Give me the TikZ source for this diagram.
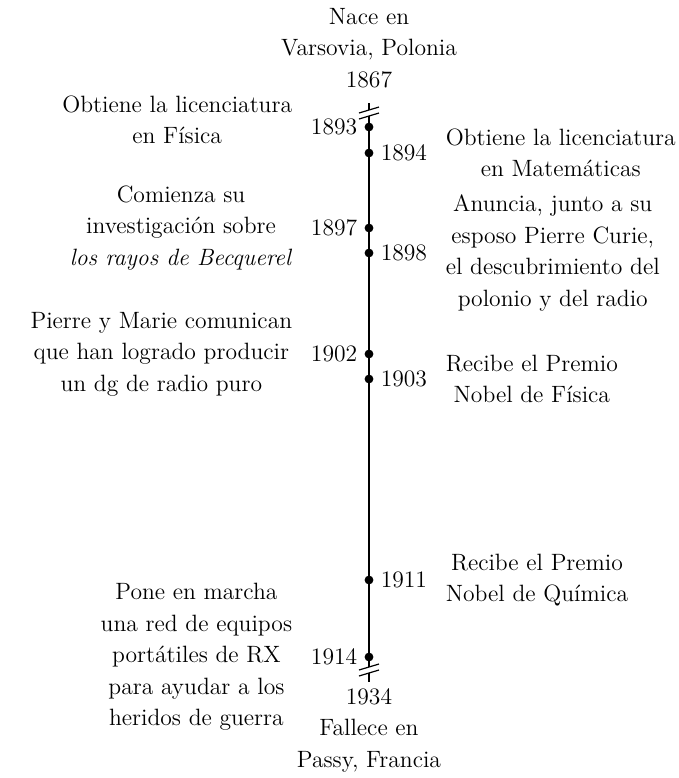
\documentclass[tikz,border=0pt]{standalone}
\usetikzlibrary{positioning}
\begin{document}
\begin{tikzpicture}[x=0.5pt,y=-0.5pt,
  font=\fontsize{11.8}{15.75}\selectfont,
  evento/.style={align=center,inner sep=2pt},
  anio/.style={inner sep=2pt},
  punto/.style={circle,fill,inner sep=0pt,minimum size=4.4pt},
  linea/.style={line width=0.6pt}]
\useasboundingbox (0,0) rectangle (679,778);

% Extremos de la linea de tiempo
\node[evento] (nace) at (369,48) {Nace en\\Varsovia, Polonia\\1867};
\node[evento] (muere) at (369,730) {1934\\Fallece en\\Passy, Francia};

% Linea con cortes
\coordinate (inicio) at (369,103);
\coordinate (corte1) at (369,110);
\coordinate (corte2) at (369,116);
\coordinate (corte3) at (369,667);
\coordinate (corte4) at (369,673);
\coordinate (fin) at (369,682);
\draw[linea] (inicio) -- (corte1);
\draw[linea] (corte2) -- (corte3);
\draw[linea] (corte4) -- (fin);
\draw[linea] ([shift={(-10,3)}]corte1) -- ([shift={(10,-3)}]corte1);
\draw[linea] ([shift={(-10,3)}]corte2) -- ([shift={(10,-3)}]corte2);
\draw[linea] ([shift={(-10,3)}]corte3) -- ([shift={(10,-3)}]corte3);
\draw[linea] ([shift={(-10,3)}]corte4) -- ([shift={(10,-3)}]corte4);

% Puntos
\node[punto] (p1893) at (369,127) {};
\node[punto] (p1894) at (369,153) {};
\node[punto] (p1897) at (369,228) {};
\node[punto] (p1898) at (369,253) {};
\node[punto] (p1902) at (369,354) {};
\node[punto] (p1903) at (369,379) {};
\node[punto] (p1911) at (369,580) {};
\node[punto] (p1914) at (369,657) {};

% Anios
\node[anio, left=1.3pt of p1893] (a1893) {1893};
\node[anio, right=1.3pt of p1894] (a1894) {1894};
\node[anio, left=1.3pt of p1897] (a1897) {1897};
\node[anio, right=1.3pt of p1898] (a1898) {1898};
\node[anio, left=1.3pt of p1902] (a1902) {1902};
\node[anio, right=1.3pt of p1903] (a1903) {1903};
\node[anio, right=1.3pt of p1911] (a1911) {1911};
\node[anio, left=1.3pt of p1914] (a1914) {1914};

% Eventos a la izquierda
\node[evento, left=5pt of a1893, yshift=3.5pt] (e1893) {Obtiene la licenciatura\\en Física};
\node[evento, left=5pt of a1897] (e1897) {Comienza su\\investigación sobre\\\textit{los rayos de Becquerel}};
\node[evento, left=5pt of a1902] (e1902) {Pierre y Marie comunican\\que han logrado producir\\un dg de radio puro};
\node[evento, left=5pt of a1914] (e1914) {Pone en marcha\\una red de equipos\\portátiles de RX\\para ayudar a los\\heridos de guerra};

% Eventos a la derecha
\node[evento, right=5pt of a1894] (e1894) {Obtiene la licenciatura\\en Matemáticas};
\node[evento, right=5pt of a1898] (e1898) {Anuncia, junto a su\\esposo Pierre Curie,\\el descubrimiento del\\polonio y del radio};
\node[evento, right=5pt of a1903] (e1903) {Recibe el Premio\\Nobel de Física};
\node[evento, right=5pt of a1911] (e1911) {Recibe el Premio\\Nobel de Química};

\end{tikzpicture}
\end{document}
